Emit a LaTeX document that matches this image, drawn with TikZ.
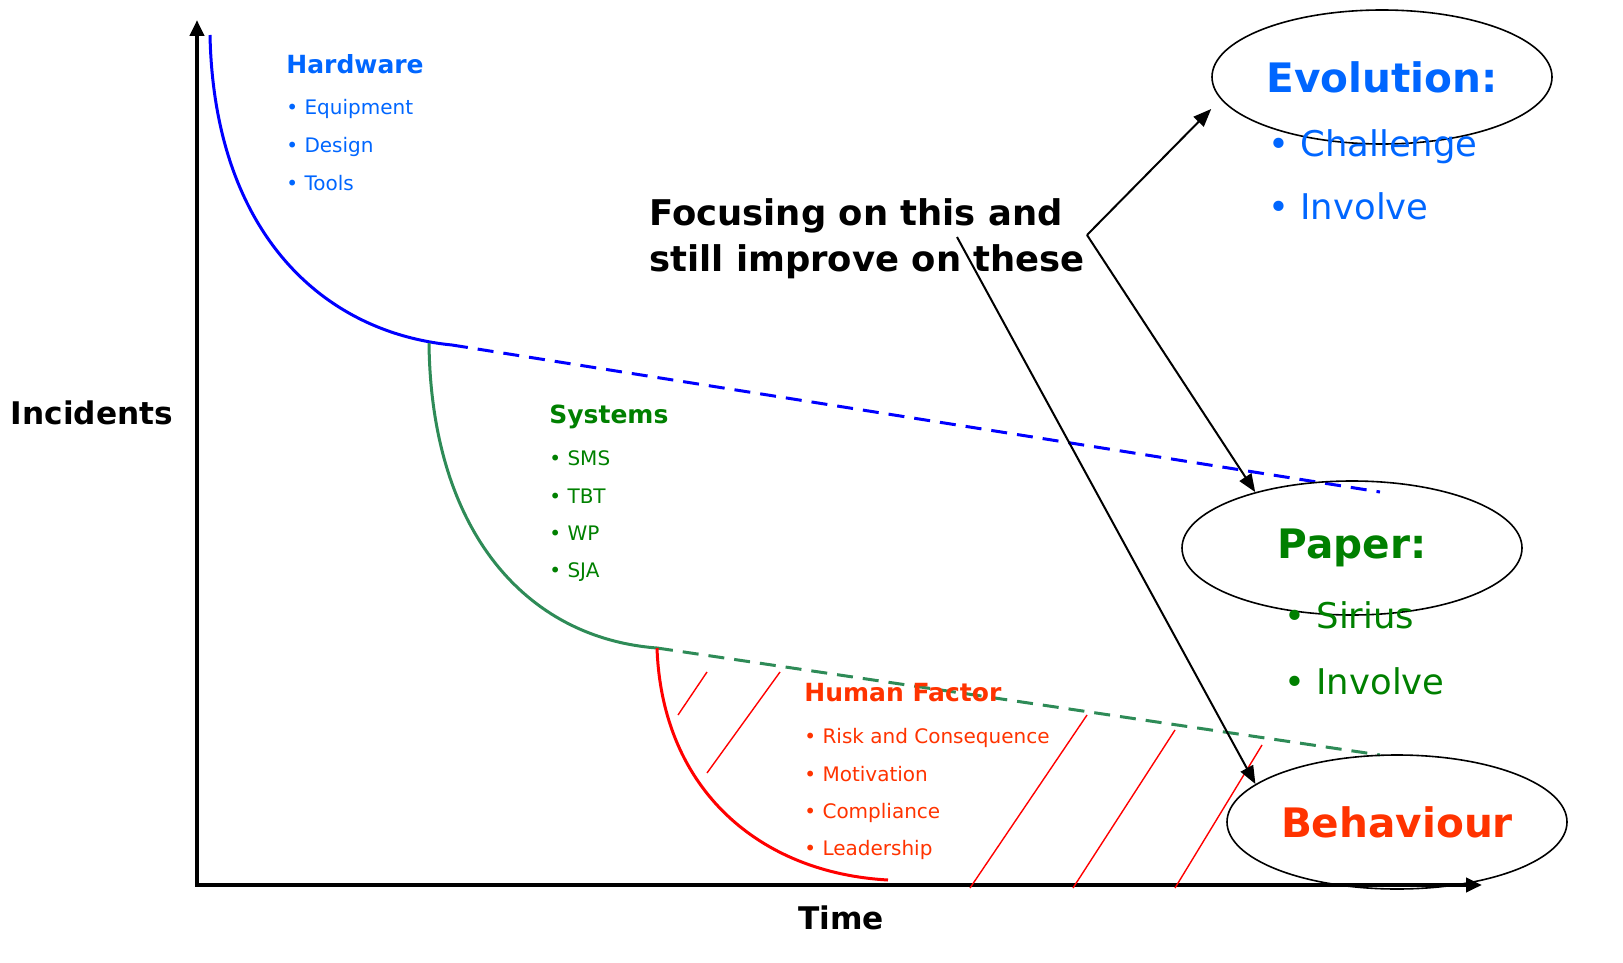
\documentclass[tikz,border=0pt]{standalone}
\usepackage{fontspec}
\setmainfont{DejaVu Sans}
\usetikzlibrary{arrows.meta,positioning,shapes.geometric}
\definecolor{hwblue}{RGB}{0,102,255}
\definecolor{sysgreen}{RGB}{0,128,0}
\definecolor{curvegreen}{RGB}{46,139,87}
\definecolor{hfred}{RGB}{255,51,0}

\begin{document}
\begin{tikzpicture}[x=0.5pt,y=-0.5pt,>={Triangle[length=9pt,width=7pt]},
  axis/.style={line width=2.2pt,{Triangle[length=8pt,width=7pt]}-{Triangle[length=8pt,width=7pt]}},
  curve/.style={line width=1.5pt},
  trend/.style={line width=1.5pt,dash pattern=on 8pt off 5pt},
  hatch/.style={red,line width=0.7pt},
  head/.style={font=\fontsize{12.5}{15}\selectfont\bfseries,anchor=base west,inner sep=0pt},
  item/.style={font=\fontsize{10}{12}\selectfont,anchor=base west,inner sep=0pt},
  focus/.style={font=\fontsize{17.7}{21}\selectfont\bfseries,anchor=base west,inner sep=0pt},
  goal/.style={ellipse,draw=black,line width=0.8pt,minimum width=170pt,minimum height=67pt,
    inner sep=0pt,font=\fontsize{20.3}{24}\selectfont\bfseries},
  bigitem/.style={font=\fontsize{17.7}{21}\selectfont,anchor=base west,inner sep=0pt},
  lbl/.style={font=\fontsize{15.6}{18}\selectfont\bfseries,anchor=base,inner sep=0pt}]

  \useasboundingbox (0,0) rectangle (1623,963);

  % axes
  \coordinate (o) at (197,885);
  \coordinate (ytop) at (197,20);
  \coordinate (xend) at (1482,885);
  \draw[axis] (ytop) -- (o) -- (xend);
  \node[lbl] (inc) at (92,424) {Incidents};
  \node[lbl] (time) at (841,929) {Time};

  % curves and trends
  \coordinate (hw0) at (210,35);
  \coordinate (hwk) at (452,345);
  \coordinate (sy0) at (429,343);
  \coordinate (syk) at (657,648);
  \coordinate (hfk) at (888,880);
  \coordinate (hwend) at (1380,492);
  \coordinate (syend) at (1380,755);
  \draw[curve,blue] (hw0) .. controls (214,230) and (320,332) .. (hwk);
  \draw[trend,blue] (hwk) -- (hwend);
  \draw[curve,curvegreen] (sy0) .. controls (431,530) and (525,638) .. (syk);
  \draw[trend,curvegreen] (syk) -- (syend);
  \draw[curve,red] (syk) .. controls (662,790) and (760,873) .. (hfk);

  \foreach \a/\b/\c/\d in {678/715/707/672,707/773/780/672,970/888/1087/715,
    1073/888/1175/730,1175/888/1262/745}
    \draw[hatch] (\a,\b) -- (\c,\d);

  % hardware
  \node[head,hwblue] (hw) at (286,74) {Hardware};
  \node[below=20.5pt of hw.base west,item,hwblue] (equip) {\textbullet\ Equipment};
  \node[below=19pt of equip.base west,item,hwblue] (design) {\textbullet\ Design};
  \node[below=19pt of design.base west,item,hwblue] (tools) {\textbullet\ Tools};

  % systems
  \node[head,sysgreen] (sys) at (549,423) {Systems};
  \node[below=21pt of sys.base west,item,sysgreen] (sms) {\textbullet\ SMS};
  \node[below=19pt of sms.base west,item,sysgreen] (tbt) {\textbullet\ TBT};
  \node[below=18.5pt of tbt.base west,item,sysgreen] (wp) {\textbullet\ WP};
  \node[below=18.5pt of wp.base west,item,sysgreen] (sja) {\textbullet\ SJA};

  % human factor
  \node[head,hfred] (hf) at (804,701) {Human Factor};
  \node[below=21pt of hf.base west,item,hfred] (risk) {\textbullet\ Risk and Consequence};
  \node[below=19pt of risk.base west,item,hfred] (motiv) {\textbullet\ Motivation};
  \node[below=18.5pt of motiv.base west,item,hfred] (compl) {\textbullet\ Compliance};
  \node[below=18.5pt of compl.base west,item,hfred] (lead) {\textbullet\ Leadership};

  \node[focus] (f1) at (649,225) {Focusing on this and};
  \node[below=23pt of f1.base west,focus] (f2) {still improve on these};

  % goals
  \node[goal,text=hwblue] (evo) at (1382,77) {Evolution:};
  \node[goal,text=sysgreen] (paper) at (1352,548) {Paper:};
  \node[goal,text=hfred] (behav) at (1397,822) {Behaviour};

  \node[bigitem,hwblue] (chal) at (1268,156) {\textbullet\ Challenge};
  \node[below=32pt of chal.base west,bigitem,hwblue] (invevo) {\textbullet\ Involve};
  \node[bigitem,sysgreen] (sirius) at (1284,628) {\textbullet\ Sirius};
  \node[below=33pt of sirius.base west,bigitem,sysgreen] (invpap) {\textbullet\ Involve};

  \coordinate (split) at (1087,235);
  \coordinate (fstart) at (957,237);
  \draw[->,line width=1pt] (split) -- ([yshift=-16pt]evo.west);
  \draw[->,line width=1pt] (split) -- (paper.150);
  \draw[->,line width=1pt] (fstart) -- (behav.165);

\end{tikzpicture}
\end{document}
